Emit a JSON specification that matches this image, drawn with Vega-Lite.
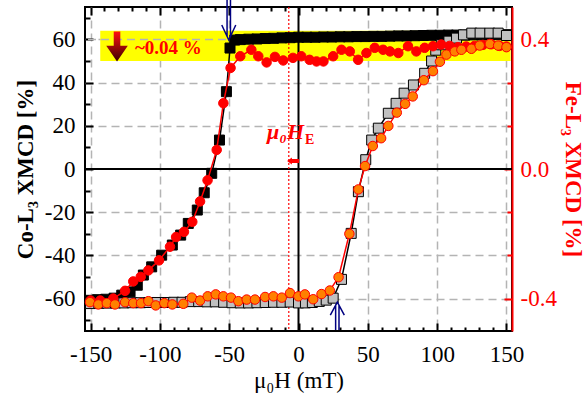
{
  "$schema": "https://vega.github.io/schema/vega-lite/v6.json",
  "width": 427,
  "height": 324,
  "autosize": {"type": "none"},
  "padding": {"left": 85, "top": 7, "right": 72, "bottom": 65},
  "background": "white",
  "config": {
    "view": {"stroke": "black", "strokeWidth": 2},
    "axis": {
      "labelFont": "Liberation Serif", "titleFont": "Liberation Serif",
      "labelFontSize": 23, "titleFontSize": 23,
      "labelColor": "black", "titleColor": "black",
      "tickColor": "black", "tickWidth": 2,
      "domain": false, "grid": false,
      "labelFlush": false, "labelOverlap": false
    },
    "text": {"font": "Liberation Serif"}
  },
  "datasets": {
    "co": [
      {"H":150,"v":62.2,"b":"d"},{"H":144,"v":62.2,"b":"d"},{"H":138,"v":62.2,"b":"d"},{"H":132,"v":62.1,"b":"d"},{"H":126,"v":62.1,"b":"d"},{"H":120,"v":62.0,"b":"d"},{"H":114,"v":62.0,"b":"d"},{"H":108,"v":62.0,"b":"d"},{"H":102,"v":61.9,"b":"d"},{"H":96,"v":61.9,"b":"d"},{"H":90,"v":61.8,"b":"d"},{"H":84,"v":61.7,"b":"d"},{"H":78,"v":61.6,"b":"d"},{"H":72,"v":61.6,"b":"d"},{"H":66,"v":61.5,"b":"d"},{"H":60,"v":61.4,"b":"d"},{"H":54,"v":61.4,"b":"d"},{"H":48,"v":61.3,"b":"d"},{"H":42,"v":61.3,"b":"d"},{"H":36,"v":61.2,"b":"d"},{"H":30,"v":61.2,"b":"d"},{"H":24,"v":61.1,"b":"d"},{"H":18,"v":61.1,"b":"d"},{"H":12,"v":61.0,"b":"d"},{"H":6,"v":61.0,"b":"d"},{"H":0,"v":61.0,"b":"d"},{"H":-6,"v":60.8,"b":"d"},{"H":-12,"v":60.7,"b":"d"},{"H":-18,"v":60.5,"b":"d"},{"H":-24,"v":60.4,"b":"d"},{"H":-30,"v":60.2,"b":"d"},{"H":-36,"v":60.1,"b":"d"},{"H":-42,"v":59.9,"b":"d"},{"H":-46,"v":59.7,"b":"d"},{"H":-49.4,"v":56.0,"b":"d"},{"H":-52,"v":35.8,"b":"d"},{"H":-57,"v":13.4,"b":"d"},{"H":-62.6,"v":-2,"b":"d"},{"H":-68,"v":-11,"b":"d"},{"H":-73,"v":-19,"b":"d"},{"H":-79.5,"v":-25.2,"b":"d"},{"H":-85,"v":-30.6,"b":"d"},{"H":-91,"v":-35.2,"b":"d"},{"H":-98.7,"v":-39.9,"b":"d"},{"H":-105.9,"v":-45.3,"b":"d"},{"H":-111.9,"v":-49.1,"b":"d"},{"H":-116.3,"v":-53.8,"b":"d"},{"H":-121.5,"v":-56.9,"b":"d"},{"H":-127.5,"v":-58.4,"b":"d"},{"H":-133,"v":-59.8,"b":"d"},{"H":-139,"v":-60.3,"b":"d"},{"H":-145,"v":-60.5,"b":"d"},{"H":-150,"v":-60.8,"b":"d"},
      {"H":-150,"v":-62.3,"b":"u"},{"H":-144,"v":-62.2,"b":"u"},{"H":-138,"v":-62.1,"b":"u"},{"H":-132,"v":-62.0,"b":"u"},{"H":-126,"v":-62.0,"b":"u"},{"H":-120,"v":-61.9,"b":"u"},{"H":-114,"v":-61.9,"b":"u"},{"H":-108,"v":-61.8,"b":"u"},{"H":-102,"v":-61.8,"b":"u"},{"H":-96,"v":-61.8,"b":"u"},{"H":-90,"v":-61.7,"b":"u"},{"H":-84,"v":-61.7,"b":"u"},{"H":-78,"v":-61.4,"b":"u"},{"H":-72,"v":-61.4,"b":"u"},{"H":-66,"v":-61.5,"b":"u"},{"H":-60,"v":-61.5,"b":"u"},{"H":-54,"v":-61.7,"b":"u"},{"H":-48,"v":-61.9,"b":"u"},{"H":-42,"v":-62.0,"b":"u"},{"H":-36,"v":-62.0,"b":"u"},{"H":-30,"v":-61.9,"b":"u"},{"H":-24,"v":-61.8,"b":"u"},{"H":-18,"v":-61.7,"b":"u"},{"H":-12,"v":-61.7,"b":"u"},{"H":-6,"v":-61.6,"b":"u"},{"H":0,"v":-62.0,"b":"u"},{"H":5,"v":-62.0,"b":"u"},{"H":10,"v":-61.8,"b":"u"},{"H":15,"v":-61.3,"b":"u"},{"H":20,"v":-60.7,"b":"u"},{"H":25,"v":-59.8,"b":"u"},{"H":31,"v":-51.1,"b":"u"},{"H":38,"v":-29.8,"b":"u"},{"H":43.2,"v":-10.5,"b":"u"},{"H":48.5,"v":4.3,"b":"u"},{"H":52.8,"v":13.4,"b":"u"},{"H":57.6,"v":18.9,"b":"u"},{"H":64.8,"v":25.8,"b":"u"},{"H":70.4,"v":30.4,"b":"u"},{"H":76.2,"v":35.1,"b":"u"},{"H":82.9,"v":38.9,"b":"u"},{"H":91,"v":44.3,"b":"u"},{"H":96,"v":50.0,"b":"u"},{"H":99,"v":55.0,"b":"u"},{"H":103,"v":57.5,"b":"u"},{"H":108.5,"v":59.2,"b":"u"},{"H":114,"v":60.6,"b":"u"},{"H":119,"v":62.1,"b":"u"},{"H":125,"v":62.9,"b":"u"},{"H":131,"v":62.9,"b":"u"},{"H":138,"v":62.9,"b":"u"},{"H":144,"v":62.9,"b":"u"},{"H":150,"v":61.8,"b":"u"}
    ],
    "fe": [
      {"H":150,"v":0.378,"b":"d"},{"H":145,"v":0.380,"b":"d"},{"H":139,"v":0.385,"b":"d"},{"H":133,"v":0.383,"b":"d"},{"H":127,"v":0.380,"b":"d"},{"H":121,"v":0.378,"b":"d"},{"H":115,"v":0.376,"b":"d"},{"H":109,"v":0.380,"b":"d"},{"H":103,"v":0.384,"b":"d"},{"H":97,"v":0.379,"b":"d"},{"H":91,"v":0.374,"b":"d"},{"H":85,"v":0.363,"b":"d"},{"H":79,"v":0.379,"b":"d"},{"H":72,"v":0.358,"b":"d"},{"H":66,"v":0.363,"b":"d"},{"H":61,"v":0.368,"b":"d"},{"H":55,"v":0.374,"b":"d"},{"H":49,"v":0.358,"b":"d"},{"H":43,"v":0.337,"b":"d"},{"H":37,"v":0.363,"b":"d"},{"H":31,"v":0.368,"b":"d"},{"H":25,"v":0.348,"b":"d"},{"H":18,"v":0.332,"b":"d"},{"H":13,"v":0.332,"b":"d"},{"H":8,"v":0.337,"b":"d"},{"H":2,"v":0.348,"b":"d"},{"H":-4,"v":0.343,"b":"d"},{"H":-11,"v":0.335,"b":"d"},{"H":-17,"v":0.346,"b":"d"},{"H":-23,"v":0.329,"b":"d"},{"H":-29,"v":0.348,"b":"d"},{"H":-34,"v":0.368,"b":"d"},{"H":-42,"v":0.348,"b":"d"},{"H":-49,"v":0.312,"b":"d"},{"H":-54.2,"v":0.203,"b":"d"},{"H":-59,"v":0.059,"b":"d"},{"H":-65.6,"v":-0.035,"b":"d"},{"H":-71,"v":-0.100,"b":"d"},{"H":-76.6,"v":-0.163,"b":"d"},{"H":-82.6,"v":-0.194,"b":"d"},{"H":-88.3,"v":-0.210,"b":"d"},{"H":-92.7,"v":-0.240,"b":"d"},{"H":-100.6,"v":-0.282,"b":"d"},{"H":-108.3,"v":-0.313,"b":"d"},{"H":-113.8,"v":-0.333,"b":"d"},{"H":-119.2,"v":-0.347,"b":"d"},{"H":-125.1,"v":-0.376,"b":"d"},{"H":-133.6,"v":-0.400,"b":"d"},{"H":-143,"v":-0.406,"b":"d"},{"H":-150,"v":-0.406,"b":"d"},
      {"H":-150.4,"v":-0.411,"b":"u"},{"H":-144.4,"v":-0.418,"b":"u"},{"H":-138.3,"v":-0.414,"b":"u"},{"H":-132.4,"v":-0.418,"b":"u"},{"H":-125.1,"v":-0.411,"b":"u"},{"H":-119.2,"v":-0.414,"b":"u"},{"H":-113.6,"v":-0.414,"b":"u"},{"H":-108.3,"v":-0.408,"b":"u"},{"H":-103,"v":-0.421,"b":"u"},{"H":-96.8,"v":-0.414,"b":"u"},{"H":-91,"v":-0.418,"b":"u"},{"H":-83.1,"v":-0.416,"b":"u"},{"H":-77,"v":-0.397,"b":"u"},{"H":-71,"v":-0.406,"b":"u"},{"H":-65.5,"v":-0.393,"b":"u"},{"H":-59.7,"v":-0.387,"b":"u"},{"H":-54.2,"v":-0.393,"b":"u"},{"H":-48.7,"v":-0.397,"b":"u"},{"H":-43.4,"v":-0.408,"b":"u"},{"H":-37.4,"v":-0.403,"b":"u"},{"H":-31.4,"v":-0.403,"b":"u"},{"H":-24.1,"v":-0.395,"b":"u"},{"H":-18.1,"v":-0.393,"b":"u"},{"H":-12.1,"v":-0.397,"b":"u"},{"H":-6.1,"v":-0.383,"b":"u"},{"H":-0.1,"v":-0.393,"b":"u"},{"H":4.6,"v":-0.387,"b":"u"},{"H":10.6,"v":-0.402,"b":"u"},{"H":16.6,"v":-0.386,"b":"u"},{"H":22.6,"v":-0.375,"b":"u"},{"H":28.9,"v":-0.334,"b":"u"},{"H":36.7,"v":-0.200,"b":"u"},{"H":43.2,"v":-0.063,"b":"u"},{"H":48,"v":0.009,"b":"u"},{"H":53.6,"v":0.071,"b":"u"},{"H":59.6,"v":0.095,"b":"u"},{"H":64.8,"v":0.133,"b":"u"},{"H":70.9,"v":0.174,"b":"u"},{"H":76.9,"v":0.201,"b":"u"},{"H":82.4,"v":0.224,"b":"u"},{"H":90.4,"v":0.274,"b":"u"},{"H":97,"v":0.302,"b":"u"},{"H":102,"v":0.331,"b":"u"},{"H":106.7,"v":0.353,"b":"u"},{"H":112.7,"v":0.363,"b":"u"},{"H":117.5,"v":0.368,"b":"u"},{"H":124.7,"v":0.371,"b":"u"},{"H":130.7,"v":0.381,"b":"u"},{"H":138,"v":0.386,"b":"u"},{"H":144,"v":0.381,"b":"u"},{"H":150,"v":0.376,"b":"u"}
    ],
    "notes": [
      {"k":"band","H":-143,"H2":153,"v":50,"v2":64},
      {"k":"grid60","v":60},
      {"k":"zx","H":0},
      {"k":"zy","v":0},
      {"k":"he","H":-7},
      {"k":"down","H":-50.3,"v":69},
      {"k":"up","H":28,"v":-68.1},
      {"k":"grad","H":-130.9,"v":56.7},
      {"k":"txt","H":-118,"v":56,"t":"~0.04 %"},
      {"k":"mu","H":4,"v":14,"t":"μ₀H"},
      {"k":"E","H":4.7,"v":11.5,"t":"E"},
      {"k":"red","H":-3.9,"v":3.7}
    ]
  },
  "layer": [
    {
      "layer": [
        {
          "data": {"name": "notes"},
          "transform": [{"filter": "datum.k == 'band'"}],
          "mark": {"type": "rect", "color": "#ffff00"},
          "encoding": {
            "x": {"field": "H", "type": "quantitative", "scale": {"domain": [-154, 154], "nice": false, "zero": false},
              "axis": {
                "orient": "bottom",
                "values": [-150,-140,-130,-120,-110,-100,-90,-80,-70,-60,-50,-40,-30,-20,-10,0,10,20,30,40,50,60,70,80,90,100,110,120,130,140,150],
                "tickCount": 200,
                "labelExpr": "datum.value % 50 == 0 ? (datum.value < 0 ? '-' + (-datum.value) : '' + datum.value) : ''",
                "labelOverlap": false, "labelFlush": false,
                "tickSize": {"condition": {"test": "datum.value % 50 == 0", "value": -8}, "value": -4},
                "labelPadding": 20,
                "grid": true, "gridColor": "#b4b4b4", "gridDash": [8, 5], "gridWidth": 1.5,
                "gridOpacity": {"condition": {"test": "datum.value % 50 == 0 && datum.value != 0", "value": 1}, "value": 0},
                "title": "μ₀H (mT)", "titleFontWeight": "normal",
                "titleX": 213.5, "titleY": 56, "titleBaseline": "alphabetic", "titleAlign": "center"
              }
            },
            "x2": {"field": "H2"},
            "y": {"field": "v", "type": "quantitative", "scale": {"domain": [-75, 75], "nice": false, "zero": false},
              "axis": {
                "orient": "left",
                "values": [-70,-60,-50,-40,-30,-20,-10,0,10,20,30,40,50,60,70],
                "tickCount": 200,
                "labelExpr": "datum.value % 20 == 0 ? (datum.value < 0 ? '-' + (-datum.value) : '' + datum.value) : ''",
                "labelOverlap": false, "labelFlush": false,
                "tickSize": {"condition": {"test": "datum.value % 20 == 0", "value": -8}, "value": -5},
                "labelPadding": 18,
                "grid": true, "gridColor": "#b4b4b4", "gridDash": [8, 5], "gridWidth": 1.5,
                "gridOpacity": {"condition": {"test": "datum.value % 20 == 0 && datum.value != 0", "value": 1}, "value": 0},
                "title": "Co-L₃ XMCD [%]", "titleFontWeight": "bold",
                "titleX": -53, "titleY": 162, "titleAngle": -90, "titleBaseline": "alphabetic", "titleAlign": "center"
              }
            },
            "y2": {"field": "v2"}
          }
        },
        {
          "data": {"name": "notes"},
          "transform": [{"filter": "datum.k == 'grid60'"}],
          "mark": {"type": "rule", "color": "#b4b4b4", "strokeDash": [8, 5], "strokeWidth": 1.5},
          "encoding": {"y": {"field": "v", "type": "quantitative", "scale": {"domain": [-75, 75], "nice": false, "zero": false}}}
        },
        {
          "data": {"name": "notes"},
          "transform": [{"filter": "datum.k == 'zy'"}],
          "mark": {"type": "rule", "color": "black", "strokeWidth": 2},
          "encoding": {"y": {"field": "v", "type": "quantitative", "scale": {"domain": [-75, 75], "nice": false, "zero": false}}}
        },
        {
          "data": {"name": "notes"},
          "transform": [{"filter": "datum.k == 'zx'"}],
          "mark": {"type": "rule", "color": "black", "strokeWidth": 2},
          "encoding": {"x": {"field": "H", "type": "quantitative", "scale": {"domain": [-154, 154], "nice": false, "zero": false}}}
        },
        {
          "data": {"name": "notes"},
          "transform": [{"filter": "datum.k == 'he'"}],
          "mark": {"type": "rule", "color": "#ff0000", "strokeWidth": 1.2, "strokeDash": [2, 2]},
          "encoding": {"x": {"field": "H", "type": "quantitative", "scale": {"domain": [-154, 154], "nice": false, "zero": false}}}
        },
        {
          "data": {"name": "co"},
          "mark": {"type": "line", "color": "black", "strokeWidth": 1.5},
          "encoding": {
            "x": {"field": "H", "type": "quantitative", "scale": {"domain": [-154, 154], "nice": false, "zero": false}},
            "y": {"field": "v", "type": "quantitative", "scale": {"domain": [-75, 75], "nice": false, "zero": false}},
            "detail": {"field": "b"}
          }
        },
        {
          "data": {"name": "co"},
          "mark": {"type": "point", "shape": "square", "size": 100, "filled": true, "opacity": 1, "stroke": "black", "strokeWidth": 1},
          "encoding": {
            "x": {"field": "H", "type": "quantitative", "scale": {"domain": [-154, 154], "nice": false, "zero": false}},
            "y": {"field": "v", "type": "quantitative", "scale": {"domain": [-75, 75], "nice": false, "zero": false}},
            "fill": {"field": "b", "type": "nominal", "scale": {"domain": ["d", "u"], "range": ["#000000", "#c0c0c0"]}, "legend": null}
          }
        },
        {
          "data": {"name": "notes"},
          "transform": [{"filter": "datum.k == 'down'"}],
          "mark": {"type": "point", "shape": "M -0.085 -1 L -0.085 0.8 M 0.085 -1 L 0.085 0.8 M -0.35 0.25 L 0 1 L 0.35 0.25", "size": 1600, "filled": false, "opacity": 1, "stroke": "#000080", "strokeWidth": 1.5},
          "encoding": {
            "x": {"field": "H", "type": "quantitative"},
            "y": {"field": "v", "type": "quantitative"}
          }
        },
        {
          "data": {"name": "notes"},
          "transform": [{"filter": "datum.k == 'up'"}],
          "mark": {"type": "point", "shape": "M -0.12 1 L -0.12 -0.8 M 0.12 1 L 0.12 -0.8 M -0.5 -0.07 L 0 -1 L 0.5 -0.07", "size": 784, "filled": false, "opacity": 1, "stroke": "#000080", "strokeWidth": 1.5},
          "encoding": {
            "x": {"field": "H", "type": "quantitative"},
            "y": {"field": "v", "type": "quantitative"}
          }
        },
        {
          "data": {"name": "notes"},
          "transform": [{"filter": "datum.k == 'grad'"}],
          "mark": {"type": "point", "shape": "M -0.22 -1 L 0.22 -1 L 0.22 -0.05 L 0.72 -0.05 L 0 1 L -0.72 -0.05 L -0.22 -0.05 Z", "size": 900, "filled": true, "opacity": 1, "strokeWidth": 0,
            "fill": {"gradient": "linear", "x1": 0, "y1": 0, "x2": 0, "y2": 1, "stops": [{"offset": 0, "color": "#ff1010"}, {"offset": 1, "color": "#3a0000"}]}},
          "encoding": {
            "x": {"field": "H", "type": "quantitative"},
            "y": {"field": "v", "type": "quantitative"}
          }
        },
        {
          "data": {"name": "notes"},
          "transform": [{"filter": "datum.k == 'red'"}],
          "mark": {"type": "point", "shape": "M -1 0 L -0.2 -0.6 L -0.2 -0.35 L 1 -0.35 L 1 0.35 L -0.2 0.35 L -0.2 0.6 Z", "size": 144, "filled": true, "opacity": 1, "fill": "#ff0000", "strokeWidth": 0},
          "encoding": {
            "x": {"field": "H", "type": "quantitative"},
            "y": {"field": "v", "type": "quantitative"}
          }
        },
        {
          "data": {"name": "notes"},
          "transform": [{"filter": "datum.k == 'txt'"}],
          "mark": {"type": "text", "align": "left", "baseline": "middle", "fontSize": 19, "fontWeight": "bold", "color": "#ff0000"},
          "encoding": {
            "x": {"field": "H", "type": "quantitative"},
            "y": {"field": "v", "type": "quantitative"},
            "text": {"field": "t"}
          }
        },
        {
          "data": {"name": "notes"},
          "transform": [{"filter": "datum.k == 'mu'"}],
          "mark": {"type": "text", "align": "right", "baseline": "alphabetic", "fontSize": 22, "fontWeight": "bold", "fontStyle": "italic", "color": "#ff0000"},
          "encoding": {
            "x": {"field": "H", "type": "quantitative"},
            "y": {"field": "v", "type": "quantitative"},
            "text": {"field": "t"}
          }
        },
        {
          "data": {"name": "notes"},
          "transform": [{"filter": "datum.k == 'E'"}],
          "mark": {"type": "text", "align": "left", "baseline": "alphabetic", "fontSize": 14, "fontWeight": "bold", "color": "#ff0000"},
          "encoding": {
            "x": {"field": "H", "type": "quantitative"},
            "y": {"field": "v", "type": "quantitative"},
            "text": {"field": "t"}
          }
        }
      ]
    },
    {
      "data": {"name": "fe"},
      "layer": [
        {
          "mark": {"type": "line", "color": "#ff0000", "strokeWidth": 1.5},
          "encoding": {
            "x": {"field": "H", "type": "quantitative", "scale": {"domain": [-154, 154], "nice": false, "zero": false},
              "axis": {
                "orient": "top",
                "values": [-150,-140,-130,-120,-110,-100,-90,-80,-70,-60,-50,-40,-30,-20,-10,0,10,20,30,40,50,60,70,80,90,100,110,120,130,140,150],
                "tickCount": 200,
                "labels": false,
                "tickSize": {"condition": {"test": "datum.value % 50 == 0", "value": -8}, "value": -4},
                "title": null
              }
            },
            "y": {"field": "v", "type": "quantitative", "scale": {"domain": [-0.5, 0.5], "nice": false, "zero": false},
              "axis": {
                "orient": "right",
                "values": [-0.4, -0.26667, -0.13333, 0, 0.13333, 0.26667, 0.4],
                "tickCount": 200,
                "labelExpr": "abs(datum.value) < 0.01 ? '0.0' : (abs(abs(datum.value) - 0.4) < 0.01 ? (datum.value < 0 ? '-0.4' : '0.4') : '')",
                "labelOverlap": false, "labelFlush": false,
                "tickSize": {"condition": {"test": "abs(datum.value) < 0.01 || abs(abs(datum.value) - 0.4) < 0.01", "value": -8}, "value": -5},
                "tickColor": "#ff0000", "labelColor": "#ff0000",
                "labelPadding": 16,
                "domain": true, "domainColor": "#ff0000", "domainWidth": 2,
                "title": "Fe-L₃ XMCD [%]", "titleColor": "#ff0000", "titleFontWeight": "bold",
                "titleX": 53, "titleY": 162, "titleAngle": 90, "titleBaseline": "alphabetic", "titleAlign": "center"
              }
            },
            "detail": {"field": "b"}
          }
        },
        {
          "mark": {"type": "point", "shape": "circle", "size": 90, "filled": true, "opacity": 1, "stroke": "#ff0000", "strokeWidth": 1},
          "encoding": {
            "x": {"field": "H", "type": "quantitative"},
            "y": {"field": "v", "type": "quantitative"},
            "fill": {"field": "b", "type": "nominal", "scale": {"domain": ["d", "u"], "range": ["#ff0000", "#ff8000"]}, "legend": null}
          }
        }
      ]
    }
  ],
  "resolve": {"scale": {"y": "independent", "fill": "independent"}, "axis": {"x": "independent"}}
}
